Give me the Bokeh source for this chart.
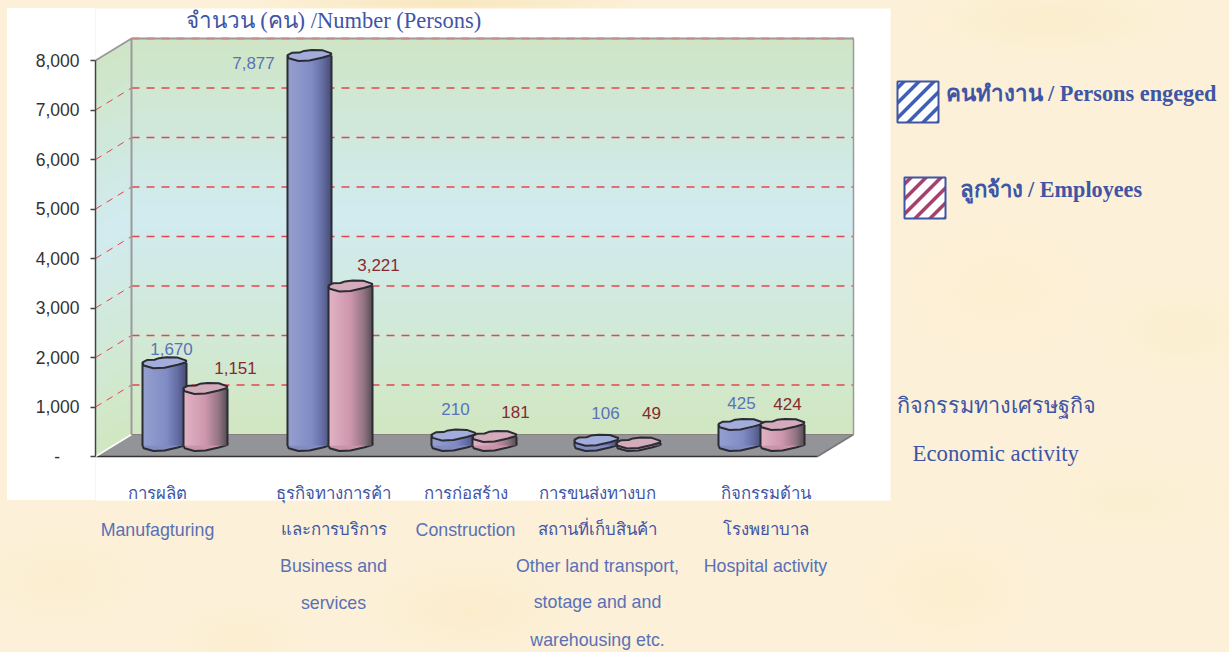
from bokeh.plotting import figure
from bokeh.models import Range1d, FixedTicker, BoxAnnotation
from bokeh.core.properties import value
from bokeh.embed import file_html
from bokeh.resources import INLINE

# ---- data
categories = ["Manufagturing", "Business and services", "Construction",
              "Other land transport, stotage and warehousing etc.", "Hospital activity"]
persons_engaged = [1670, 7877, 210, 106, 425]
employees = [1151, 3221, 181, 49, 424]
tick_values = [0, 1000, 2000, 3000, 4000, 5000, 6000, 7000, 8000]

# ---- layout in page pixels (x data = page x)
SCALE = 0.0495            # px per person
Y0 = 456                  # page y of value 0 on the front plane
def py(page_y):           # page y -> value axis
    return (Y0 - page_y) / SCALE
def dy(px):
    return px / SCALE

W, H = 1229, 652
p = figure(width=W, height=H, output_backend="svg", toolbar_location=None,
           x_range=Range1d(95, W), y_range=Range1d(py(H), py(0)),
           min_border_left=95, min_border_right=0, min_border_top=0, min_border_bottom=0,
           x_axis_location=None, background_fill_color=None, border_fill_color=None,
           outline_line_color=None)
p.xgrid.visible = False
p.ygrid.visible = False

# white panel (the part left of the frame is in the page css below)
p.add_layout(BoxAnnotation(left=95, right=890, top=py(8), bottom=py(500),
                           fill_color="white", fill_alpha=1, line_color=None,
                           level="underlay"))

# y axis
ax = p.yaxis[0]
ax.ticker = FixedTicker(ticks=tick_values)
ax.bounds = (0, 8000)
ax.major_label_overrides = {0: "-\u00a0\u00a0\u00a0\u00a0"}
for v in tick_values[1:]:
    ax.major_label_overrides[v] = f"{v:,}"
ax.major_label_text_font = "Liberation Sans"
ax.major_label_text_font_size = "17.5px"
ax.major_label_text_color = "#333333"
ax.major_label_standoff = 11
ax.axis_line_color = "#444444"
ax.axis_line_width = 1.5
ax.major_tick_line_color = "#444444"
ax.major_tick_line_width = 1.5
ax.major_tick_out = 5
ax.major_tick_in = 0
ax.minor_tick_line_color = None

# walls
DX, DY = 36, 22
xl, xr_back, xr_front = 95, 853, 817
stops = [(0.0, (207, 229, 197)), (0.45, (209, 235, 240)), (1.0, (209, 231, 193))]
def grad(t, st):
    for (t0, c0), (t1, c1) in zip(st, st[1:]):
        if t <= t1:
            f = (t - t0) / (t1 - t0)
            return "#%02x%02x%02x" % tuple(round(a + (b - a) * f) for a, b in zip(c0, c1))
    return "#%02x%02x%02x" % st[-1][1]

N = 66
v_step = 8000 / N
OVER = dy(1.5)
back_c, side_x, side_y = [], [], []
for i in range(N):
    v0, v1 = i * v_step, (i + 1) * v_step + (OVER if i < N - 1 else 0)
    back_c.append(grad(1 - (i + .5) / N, stops))
    side_x.append([xl, xl + DX, xl + DX, xl])
    side_y.append([v0, v0 + dy(DY), v1 + dy(DY), v1])
p.quad(left=[xl + DX] * N, right=[xr_back] * N,
       bottom=[i * v_step + dy(DY) for i in range(N)],
       top=[(i + 1) * v_step + (OVER if i < N - 1 else 0) + dy(DY) for i in range(N)],
       fill_color=back_c, line_color=None)
p.patches(side_x, side_y, fill_color=back_c, line_color=None)

# floor
p.patch([xl, xl + DX, xr_back, xr_front], [0, dy(DY), dy(DY), 0],
        fill_color="#929497", line_color=None)
p.line([xl, xr_front], [0, 0], line_color="#333333", line_width=1.5)
p.line([xr_front, xr_back], [0, dy(DY)], line_color="#777777", line_width=1.5)
p.line([xl, xl + DX], [0, dy(DY)], line_color="#ffffff", line_width=1.5)

# grid lines
grid_vals = tick_values[1:-1]
p.segment([xl + DX] * len(grid_vals), [v + dy(DY) for v in grid_vals],
          [xr_back] * len(grid_vals), [v + dy(DY) for v in grid_vals],
          line_color="#e64550", line_width=1.5, line_dash="8 7")
p.segment([xl] * len(grid_vals), grid_vals, [xl + DX] * len(grid_vals),
          [v + dy(DY) for v in grid_vals],
          line_color="#e8404a", line_width=1, line_dash="7 6")

# wall frames
p.line([xl, xl + DX, xl + DX], [8000, 8000 + dy(DY), dy(DY)], line_color="#9a9a9a", line_width=2)
p.line([xr_back, xr_back], [8000 + dy(DY), dy(DY)], line_color="#9a9a9a", line_width=1.5)
p.line([xl + DX, xr_back], [8000 + dy(DY)] * 2, line_color="#9a9a9a", line_width=2)
p.line([xl + DX, xr_back], [8000 + dy(DY)] * 2, line_color="#c98a8a", line_width=2, line_dash="8 7")
p.line([xl + DX, xr_back], [dy(DY), dy(DY)], line_color="#8a8080", line_width=1)

# cylinders
BAR_W = 44
BASE = dy(DY / 2)
CAP_H = 5.5   # half height of the cap, px
CENTERS_A = [164, 309, 453, 596, 740]
CENTERS_B = [205, 350, 494, 638, 782]
CAP_SHAPE = [(-1, .1), (-.8, .5), (-.45, .55), (-.25, .85), (.1, 1), (.6, .95), (1, .4),
             (.95, .05), (.6, -.35), (0, -.9), (-.5, -1), (-.95, -.5)]
blue_st = [(0.0, (150, 160, 208)), (0.55, (128, 139, 195)), (0.8, (100, 109, 162)), (1.0, (70, 76, 116))]
pink_st = [(0.0, (226, 180, 196)), (0.5, (206, 150, 172)), (0.8, (146, 116, 130)), (1.0, (86, 76, 84))]
OUT = "#2b2b33"

def cap(c, v, col):
    p.patch([c + q[0] * BAR_W / 2 for q in CAP_SHAPE],
            [v + dy(q[1] * CAP_H) for q in CAP_SHAPE],
            fill_color=col, line_color=OUT, line_width=2)

def cylinder(c, v, st, top_col):
    left = c - BAR_W / 2
    n = 22
    w = BAR_W / n
    cols = [grad((k + .5) / n, st) for k in range(n)]
    cap(c, BASE, cols[n // 2])
    p.quad(left=[left + k * w for k in range(n)],
           right=[left + (k + 1) * w + (1 if k < n - 1 else 0) for k in range(n)],
           bottom=[BASE] * n, top=[BASE + v] * n, fill_color=cols, line_color=None)
    p.segment([left, left + BAR_W], [BASE] * 2, [left, left + BAR_W], [BASE + v] * 2,
              line_color=OUT, line_width=2)
    cap(c, BASE + v, top_col)

for ca, cb, a, b in zip(CENTERS_A, CENTERS_B, persons_engaged, employees):
    cylinder(ca, a, blue_st, "#a3addb")
    cylinder(cb, b, pink_st, "#d3abba")

# value labels
BLUE_TXT, RED_TXT = "#5a73b8", "#862a30"
lab_a_dx = [7, -56, 2, 9, 1]
lab_a_dy = [14, -7, 26, 27, 21]
lab_b_dx = [30, 28, 21, 13, 5]
lab_b_dy = [21, 21, 25, 30, 21]
p.text([c + d for c, d in zip(CENTERS_A, lab_a_dx)],
       [BASE + v + dy(d) for v, d in zip(persons_engaged, lab_a_dy)],
       text=[f"{v:,}" for v in persons_engaged], text_align="center", text_baseline="middle",
       text_font=value("Liberation Sans"), text_font_size="17px", text_color=BLUE_TXT)
p.text([c + d for c, d in zip(CENTERS_B, lab_b_dx)],
       [BASE + v + dy(d) for v, d in zip(employees, lab_b_dy)],
       text=[f"{v:,}" for v in employees], text_align="center", text_baseline="middle",
       text_font=value("Liberation Sans"), text_font_size="17px", text_color=RED_TXT)

# text helpers
INK = "#3f55a5"
SOFT = "#5a70b6"
def put(x, y, s, font, size, color, align="center", style="normal"):
    p.text([x], [py(y)], text=[s], text_align=align, text_baseline="middle",
           text_font=value(font), text_font_size=size, text_color=color, text_font_style=style)

put(185, 20, "จำนวน (คน) /Number (Persons)", "Liberation Serif", "22.5px", INK, "left")

thai_lines = [
    (157, 493, "การผลิต"), (333, 493, "ธุรกิจทางการค้า"), (333, 529, "และการบริการ"),
    (465, 493, "การก่อสร้าง"), (597, 493, "การขนส่งทางบก"), (597, 529, "สถานที่เก็บสินค้า"),
    (765, 493, "กิจกรรมด้าน"), (765, 529, "โรงพยาบาล"),
]
eng_lines = [
    (157, 529, "Manufagturing"), (333, 565, "Business and"), (333, 602, "services"),
    (465, 529, "Construction"), (597, 565, "Other land transport,"),
    (597, 601, "stotage and and"), (597, 639, "warehousing etc."),
    (765, 565, "Hospital activity"),
]
for x, y, s in thai_lines:
    put(x, y, s, "Liberation Serif", "16.8px", INK)
for x, y, s in eng_lines:
    put(x, y, s, "Liberation Sans", "17.8px", SOFT)

put(945, 93, "คนทำงาน / Persons engeged", "Liberation Serif", "22.3px", INK, "left", "bold")
put(959, 189, "ลูกจ้าง / Employees", "Liberation Serif", "22.2px", INK, "left", "bold")
put(896, 405, "กิจกรรมทางเศรษฐกิจ", "Liberation Serif", "21.7px", INK, "left")
put(912, 453, "Economic activity", "Liberation Serif", "22.8px", INK, "left")

# legend swatches
def clip(poly, f):
    out = []
    for i in range(len(poly)):
        a, b = poly[i], poly[(i + 1) % len(poly)]
        fa, fb = f(a), f(b)
        if fa >= 0:
            out.append(a)
        if (fa >= 0) != (fb >= 0):
            t = fa / (fa - fb)
            out.append((a[0] + t * (b[0] - a[0]), a[1] + t * (b[1] - a[1])))
    return out

def swatch(x0, y0, size, color):
    x1, y1 = x0 + size, y0 + size
    sq = [(x0, y0), (x1, y0), (x1, y1), (x0, y1)]
    p.quad(left=[x0], right=[x1], top=[py(y0)], bottom=[py(y1)], fill_color="white", line_color=None)
    xs, ys = [], []
    t = 4
    while t < 2 * size:
        band = clip(sq, lambda q, t=t: (q[0] - x0) + (q[1] - y0) - t)
        band = clip(band, lambda q, t=t: t + 5 - (q[0] - x0) - (q[1] - y0))
        if len(band) >= 3:
            xs.append([q[0] for q in band])
            ys.append([py(q[1]) for q in band])
        t += 15
    p.patches(xs, ys, fill_color=color, line_color=None)
    p.quad(left=[x0], right=[x1], top=[py(y0)], bottom=[py(y1)], fill_color=None,
           line_color="#3f55a5", line_width=2)

swatch(897, 81, 41, "#3f5fb5")
swatch(904, 177, 41, "#a8406e")

html = file_html(p, INLINE)
css = """<style>html,body{margin:0;padding:0;overflow:hidden;background:
linear-gradient(#fff,#fff) 7px 8px / 88px 492px no-repeat,
radial-gradient(ellipse 90px 50px at 60px 580px,#fbeed0 0%,transparent 100%),
radial-gradient(ellipse 70px 40px at 240px 640px,#fbeed0 0%,transparent 100%),
radial-gradient(ellipse 110px 50px at 470px 610px,#fbedcc 0%,transparent 100%),
radial-gradient(ellipse 90px 60px at 950px 590px,#fcefce 0%,transparent 100%),
radial-gradient(ellipse 120px 50px at 1130px 500px,#fbefd2 0%,transparent 100%),
radial-gradient(ellipse 100px 70px at 1000px 290px,#fcefd2 0%,transparent 100%),
radial-gradient(ellipse 90px 50px at 1180px 330px,#fbefd0 0%,transparent 100%),
radial-gradient(ellipse 140px 40px at 1050px 20px,#fbeecc 0%,transparent 100%),
radial-gradient(ellipse 200px 10px at 450px 3px,#f8e6bd 0%,transparent 100%),
#fcf0d8;}</style>"""
html = html.replace("</head>", css + "</head>", 1)
open("out.html", "w").write(html)
